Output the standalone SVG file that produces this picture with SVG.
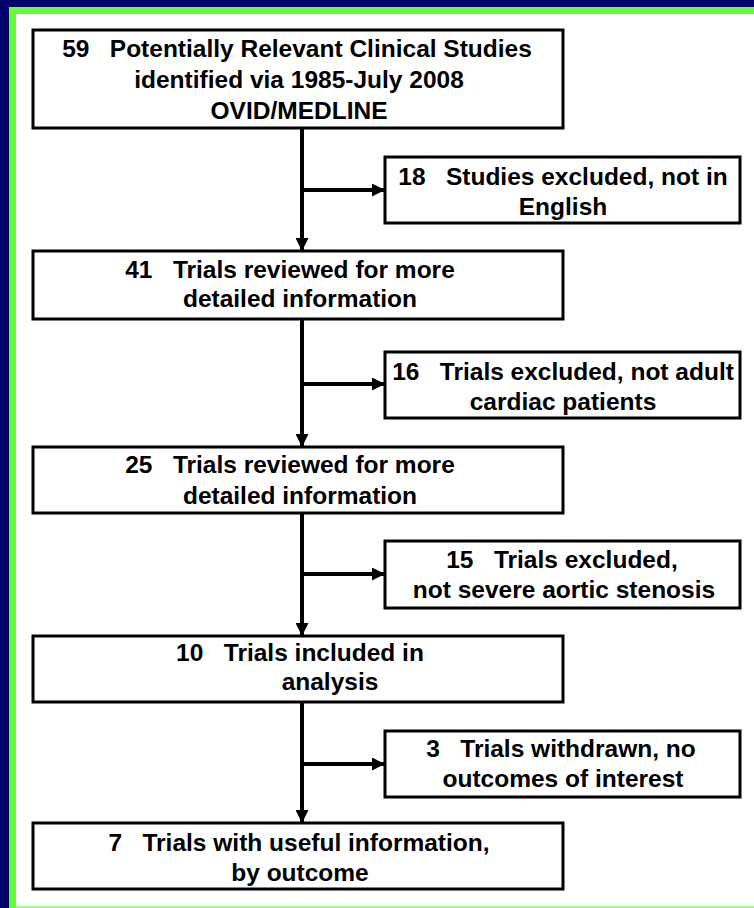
<svg xmlns="http://www.w3.org/2000/svg" width="754" height="908" viewBox="0 0 754 908">
<defs>
<style>
.box{fill:#fff;stroke:#000;stroke-width:3}
.t{font-family:"Liberation Sans",Arial,sans-serif;font-weight:bold;font-size:24.5px;fill:#000;text-anchor:middle}
.ln{stroke:#000;stroke-width:4;fill:none}
</style>
<marker id="ah" markerWidth="13" markerHeight="13" refX="12" refY="6.5" orient="auto" markerUnits="userSpaceOnUse">
<path d="M0,0 L13,6.5 L0,13 Z" fill="#000"/>
</marker>
</defs>
<rect x="0" y="0" width="754" height="908" fill="#02026b"/>
<rect x="9" y="7" width="745" height="901" fill="#66ff33"/>
<rect x="16" y="14" width="738" height="892" fill="#fff"/>
<rect x="16" y="906" width="738" height="2" fill="#99ff88"/>
<g id="connectors">
<line class="ln" x1="302" y1="128" x2="302" y2="250" marker-end="url(#ah)"/>
<line class="ln" x1="302" y1="319" x2="302" y2="446" marker-end="url(#ah)"/>
<line class="ln" x1="302" y1="513" x2="302" y2="635" marker-end="url(#ah)"/>
<line class="ln" x1="302" y1="702" x2="302" y2="822" marker-end="url(#ah)"/>
<line class="ln" x1="302" y1="190" x2="384" y2="190" marker-end="url(#ah)"/>
<line class="ln" x1="302" y1="384" x2="384" y2="384" marker-end="url(#ah)"/>
<line class="ln" x1="302" y1="574" x2="384" y2="574" marker-end="url(#ah)"/>
<line class="ln" x1="302" y1="764" x2="384" y2="764" marker-end="url(#ah)"/>
</g>
<g id="n1">
<rect class="box" x="33" y="30" width="530" height="98"/>
<text class="t" x="297" y="57" xml:space="preserve">59   Potentially Relevant Clinical Studies</text>
<text class="t" x="299" y="88">identified via 1985-July 2008</text>
<text class="t" x="299" y="119">OVID/MEDLINE</text>
</g>
<g id="n2">
<rect class="box" x="385" y="157" width="355" height="66"/>
<text class="t" x="563" y="185" xml:space="preserve">18   Studies excluded, not in</text>
<text class="t" x="563" y="215">English</text>
</g>
<g id="n3">
<rect class="box" x="33" y="251" width="530" height="68"/>
<text class="t" x="290" y="278" xml:space="preserve">41   Trials reviewed for more</text>
<text class="t" x="300" y="307">detailed information</text>
</g>
<g id="n4">
<rect class="box" x="385" y="352" width="355" height="66"/>
<text class="t" x="563" y="380" xml:space="preserve">16   Trials excluded, not adult</text>
<text class="t" x="563" y="410">cardiac patients</text>
</g>
<g id="n5">
<rect class="box" x="33" y="447" width="530" height="66"/>
<text class="t" x="290" y="473" xml:space="preserve">25   Trials reviewed for more</text>
<text class="t" x="300" y="504">detailed information</text>
</g>
<g id="n6">
<rect class="box" x="385" y="541" width="355" height="67"/>
<text class="t" x="562" y="568" xml:space="preserve">15   Trials excluded,</text>
<text class="t" x="564" y="598">not severe aortic stenosis</text>
</g>
<g id="n7">
<rect class="box" x="33" y="636" width="530" height="66"/>
<text class="t" x="300" y="661" xml:space="preserve">10   Trials included in</text>
<text class="t" x="330" y="690">analysis</text>
</g>
<g id="n8">
<rect class="box" x="385" y="731" width="355" height="66"/>
<text class="t" x="561" y="757" xml:space="preserve">3   Trials withdrawn, no</text>
<text class="t" x="563" y="787">outcomes of interest</text>
</g>
<g id="n9">
<rect class="box" x="33" y="823" width="530" height="66"/>
<text class="t" x="299" y="851" xml:space="preserve">7   Trials with useful information,</text>
<text class="t" x="300" y="881">by outcome</text>
</g>
</svg>
